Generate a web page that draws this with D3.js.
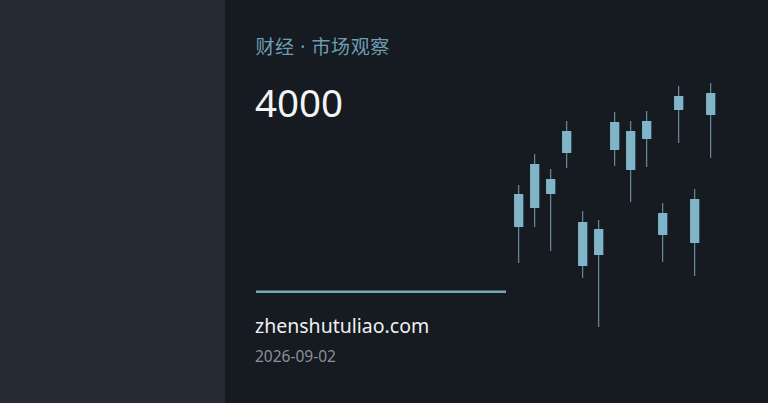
<html>

<head>
    <meta charset="utf-8">
    <script src="https://d3js.org/d3.v7.min.js"></script>
    <style>
        body { margin: 0; background: #161a21; }
        svg { display: block; }
    </style>
</head>

<body>
    <svg id="svg" width="768" height="403"></svg>

    <script>
        // DATA
        const title = "财经 · 市场观察"
        const headline = "4000"
        const site = "zhenshutuliao.com"
        const dateLabel = "2026-09-02"

        const sessions = ["1", "2", "3", "4", "5", "6", "7", "8", "9", "10", "11", "12", "13"]
        const opens = [3983, 4002, 4031, 4057, 3988, 3981, 4060, 4079, 4071, 3997, 4100, 4011, 4095]
        const closes = [4016, 4046, 4016, 4079, 3944, 3955, 4088, 4040, 4089, 3975, 4114, 3967, 4117]
        const highs = [4025, 4056, 4041, 4089, 3999, 3990, 4098, 4089, 4099, 4007, 4124, 4021, 4127]
        const lows = [3947, 3983, 3959, 4042, 3932, 3883, 4044, 4008, 4043, 3948, 4067, 3934, 4052]

        // VARIABLES
        const width = 768, height = 403
        const svg = d3.select("#svg")

        const x = d3.scaleBand()
            .domain(sessions)
            .range([510.7, 718.7])
            .paddingInner(0.42)
            .paddingOuter(0.21)

        const y = d3.scaleLinear()
            .domain([3860, 4140])
            .range([350, 70])

        const candles = sessions.map((s, i) => ({
            s, open: opens[i], close: closes[i], high: highs[i], low: lows[i]
        }))

        // BACKGROUND
        svg.append("rect").attr("width", width).attr("height", height).attr("fill", "#161a21")
        svg.append("rect").attr("width", 225).attr("height", height).attr("fill", "#262b33")

        // CANDLES
        const g = svg.append("g")
        g.selectAll("line.wick")
            .data(candles)
            .join("line")
            .attr("class", "wick")
            .attr("x1", d => x(d.s) + x.bandwidth() / 2)
            .attr("x2", d => x(d.s) + x.bandwidth() / 2)
            .attr("y1", d => y(d.high))
            .attr("y2", d => y(d.low))
            .attr("stroke", "#7a9fb0")
            .attr("stroke-width", 1)

        g.selectAll("rect.body")
            .data(candles)
            .join("rect")
            .attr("class", "body")
            .attr("x", d => x(d.s))
            .attr("width", x.bandwidth())
            .attr("y", d => y(Math.max(d.open, d.close)))
            .attr("height", d => Math.abs(y(d.open) - y(d.close)))
            .attr("fill", "#80b4c9")

        // TEXTS
        svg.append("text")
            .attr("x", 255.5).attr("y", 54)
            .attr("fill", "#6c9fb2")
            .style("font", "19px 'Noto Sans', 'Noto Sans CJK SC', sans-serif")
            .style("letter-spacing", "0.6px")
            .text(title)

        svg.append("text")
            .attr("x", 255).attr("y", 116.5)
            .attr("fill", "#f2f4f6")
            .style("font", "38.5px 'Noto Sans', sans-serif")
            .text(headline)

        svg.append("line")
            .attr("x1", 256).attr("x2", 506)
            .attr("y1", 291.8).attr("y2", 291.8)
            .attr("stroke", "#76aabb")
            .attr("stroke-width", 2.6)

        svg.append("text")
            .attr("x", 255).attr("y", 333)
            .attr("fill", "#eef0f2")
            .style("font", "19.5px 'Noto Sans', sans-serif")
            .text(site)

        svg.append("text")
            .attr("x", 255).attr("y", 362)
            .attr("fill", "#8a9099")
            .style("font", "15.5px 'Noto Sans', sans-serif")
            .text(dateLabel)
    </script>
</body>

</html>
